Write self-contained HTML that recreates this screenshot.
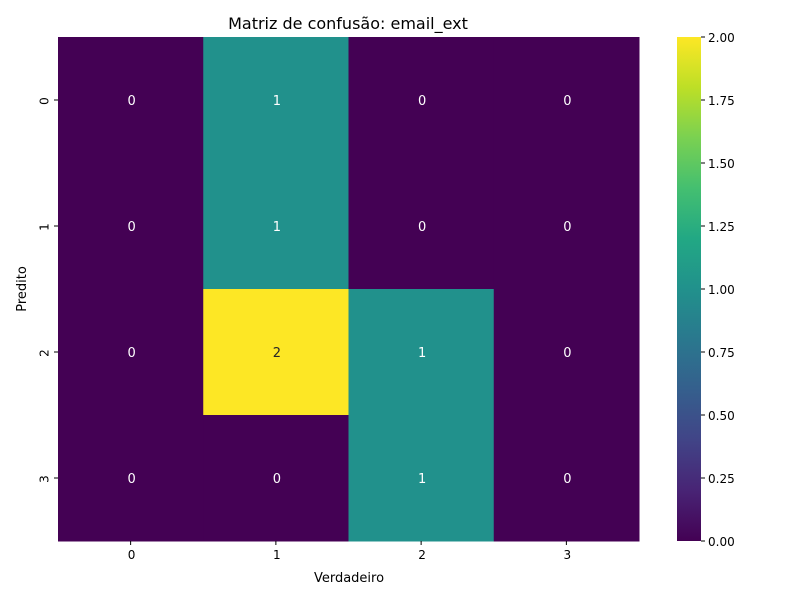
<!DOCTYPE html>
<html><head><meta charset="utf-8"><style>
body{margin:0;background:#fff;font-family:"Liberation Sans","DejaVu Sans",sans-serif}
svg text{font-family:"DejaVu Sans","Liberation Sans",sans-serif}
</style></head><body>
<svg id="chart" width="800" height="600" xmlns="http://www.w3.org/2000/svg">
<defs><linearGradient id="vir" x1="0" y1="1" x2="0" y2="0">
<stop offset="0" stop-color="#440154"/><stop offset="0.1" stop-color="#482475"/><stop offset="0.2" stop-color="#414487"/><stop offset="0.3" stop-color="#355f8d"/><stop offset="0.4" stop-color="#2a788e"/><stop offset="0.5" stop-color="#21918c"/><stop offset="0.6" stop-color="#22a884"/><stop offset="0.7" stop-color="#44bf70"/><stop offset="0.8" stop-color="#7ad151"/><stop offset="0.9" stop-color="#bddf26"/><stop offset="1" stop-color="#fde725"/>
</linearGradient></defs>
<text x="348" y="29" font-size="16" text-anchor="middle">Matriz de confusão: email_ext</text>
<g id="cells"></g><g id="axes"></g>
<rect x="677" y="37" width="24" height="504" fill="url(#vir)"/>
<g id="cbticks"></g>
<text x="349" y="582" font-size="13" text-anchor="middle">Verdadeiro</text>
<text x="26" y="289" font-size="13" text-anchor="middle" transform="rotate(-90 26 289)">Predito</text>
</svg>
<script>
const rowLabels=["0","1","2","3"];
const colLabels=["0","1","2","3"];
const matrix=[[0,1,0,0],[0,1,0,0],[0,2,1,0],[0,0,1,0]];
const cbTicks=[0,0.25,0.5,0.75,1,1.25,1.5,1.75,2];
const vmin=0,vmax=2;
const X0=58,X1=639,Y0=37,Y1=541;
const cw=(X1-X0)/colLabels.length, ch=(Y1-Y0)/rowLabels.length;
const xs=c=>X0+c*cw, ys=r=>Y0+r*ch;
const stops=[[68,1,84],[72,36,117],[65,68,135],[53,95,141],[42,120,142],[33,145,140],[34,168,132],[68,191,112],[122,209,81],[189,223,38],[253,231,37]];
function vir(t){t=Math.max(0,Math.min(1,t))*10;const i=Math.min(9,Math.floor(t)),f=t-i;const a=stops[i],b=stops[i+1];return `rgb(${a.map((v,k)=>Math.round(v+(b[k]-v)*f)).join(',')})`;}
const NS="http://www.w3.org/2000/svg";
function mk(tag,attrs,parent,txt){const e=document.createElementNS(NS,tag);for(const k in attrs)e.setAttribute(k,attrs[k]);if(txt!==undefined)e.textContent=txt;parent.appendChild(e);return e;}
const cells=document.getElementById('cells'),axes=document.getElementById('axes'),cb=document.getElementById('cbticks');
matrix.forEach((row,r)=>row.forEach((v,c)=>{
 const t=(v-vmin)/(vmax-vmin);
 const rect=mk('rect',{x:xs(c),y:ys(r),width:cw+0.5,height:ch+0.5,fill:vir(t)},cells);
 
 
 const tx=mk('text',{x:xs(c)+cw/2+1,y:ys(r)+ch/2+5,'font-size':13,'text-anchor':'middle',fill:t>0.6?'#262626':'#fff'},cells,String(v));
 
 
}));
colLabels.forEach((l,c)=>{const x=xs(c)+cw/2;
 mk('line',{x1:x,x2:x,y1:Y1,y2:Y1+4,stroke:'#000'},axes);
 const t=mk('text',{x:x+1,y:Y1+18,'font-size':12,'text-anchor':'middle'},axes,l);
 
 });
rowLabels.forEach((l,r)=>{const y=ys(r)+ch/2;
 mk('line',{x1:X0-4,x2:X0,y1:y,y2:y,stroke:'#000'},axes);
 const t=mk('text',{x:X0-13,y:y+1,'font-size':12,'text-anchor':'middle',transform:`rotate(-90 ${X0-13} ${y+1})`,'dominant-baseline':'middle'},axes,l);
 
 });
cbTicks.forEach(v=>{const y=Y1-(v-vmin)/(vmax-vmin)*(Y1-Y0);
 mk('line',{x1:701,x2:705,y1:y,y2:y,stroke:'#000'},cb);
 const t=mk('text',{x:708,y:y+5,'font-size':12},cb,v.toFixed(2));
 
 });
</script>
</body></html>
